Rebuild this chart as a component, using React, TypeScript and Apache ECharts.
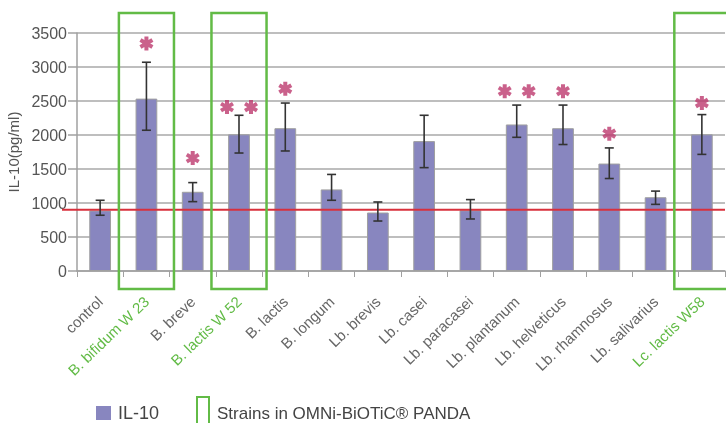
import React, { useEffect, useRef } from "react";
import * as echarts from "echarts";

const categories = [
  "control", "B. bifidum W 23", "B. breve", "B. lactis W 52", "B. lactis", "B. longum",
  "Lb. brevis", "Lb. casei", "Lb. paracasei", "Lb. plantanum", "Lb. helveticus",
  "Lb. rhamnosus", "Lb. salivarius", "Lc. lactis W58",
];
const il10Values = [890, 2535, 1165, 2010, 2100, 1200, 860, 1910, 893, 2155, 2100, 1580, 1085, 2010];
const errLow = [820, 2070, 1020, 1735, 1765, 1040, 735, 1520, 765, 1966, 1860, 1360, 980, 1715];
const errHigh = [1040, 3070, 1300, 2290, 2470, 1420, 1015, 2290, 1050, 2440, 2440, 1810, 1175, 2300];
const starCounts = [0, 1, 1, 2, 1, 0, 0, 0, 0, 2, 1, 1, 0, 1];
const starLevels = [0, 3345, 1660, 2410, 2680, 0, 0, 0, 0, 2645, 2645, 2020, 0, 2470];
const omniStrains = [1, 3, 13];
const controlLevel = 900;
const yTicks = { min: 0, max: 3500, interval: 500 };
const legendBarLabel = "IL-10";
const legendBoxLabel = "Strains in OMNi-BiOTiC® PANDA";
const yAxisName = "IL-10(pg/ml)";

const GREEN = "#62bb46";
const PURPLE = "#8886bf";
const STAR = "#bd3a6e";
const FONT = "Liberation Sans, Arial, Helvetica, sans-serif";

const ASTERISK =
  "path://M7.2 0L12.8 0L12.8 20L7.2 20Z M16.96 2.58L19.76 7.42L3.04 17.42L0.24 12.58Z M0.24 7.42L3.04 2.58L19.76 12.58L16.96 17.42Z";

export default function App() {
  const ref = useRef<HTMLDivElement>(null);
  useEffect(() => {
    if (!ref.current) return;
    const chart = echarts.init(ref.current, undefined, { renderer: "svg" });

    const starData: any[] = [];
    starCounts.forEach((n, i) => {
      if (n === 1) starData.push({ value: [i, starLevels[i]] });
      if (n === 2) {
        starData.push({ value: [i, starLevels[i]], symbolOffset: [-12, 0] });
        starData.push({ value: [i, starLevels[i]], symbolOffset: [12, 0] });
      }
    });

    chart.setOption({
      animation: false,
      grid: { left: 77, right: 1, top: 33, bottom: 152, containLabel: false, outerBoundsMode: "none" },
      xAxis: {
        type: "category",
        data: categories.map((c, i) => ({
          value: c,
          textStyle: { color: omniStrains.includes(i) ? GREEN : "#666" },
        })),
        axisLine: { lineStyle: { color: "#a0a0a0", width: 1.5 } },
        axisTick: { show: true, length: 6, lineStyle: { color: "#a0a0a0" } },
        axisLabel: {
          rotate: 44,
          interval: 0,
          fontSize: 15,
          fontFamily: FONT,
          margin: 28,
          align: "right",
          verticalAlign: "top",
          padding: [7, 0, 0, 0],
        },
        splitLine: { show: false },
      },
      yAxis: {
        type: "value",
        min: yTicks.min,
        max: yTicks.max,
        interval: yTicks.interval,
        name: yAxisName,
        nameLocation: "middle",
        nameGap: 51,
        nameTextStyle: { color: "#555", fontSize: 15, fontFamily: FONT },
        axisLine: { show: true, lineStyle: { color: "#a0a0a0", width: 1.5 } },
        axisTick: { show: true, length: 9, lineStyle: { color: "#a0a0a0", width: 1.5 } },
        axisLabel: {
          color: "#555",
          fontSize: 16,
          fontFamily: FONT,
          margin: 10,
          formatter: (v: number) => String(v),
        },
        splitLine: { lineStyle: { color: "#a8a8a8", width: 1.5 } },
      },
      series: [
        {
          type: "bar",
          data: il10Values,
          barWidth: "47%",
          itemStyle: { color: PURPLE, borderColor: "#a0a0a0", borderWidth: 1 },
          z: 2,
        },
        {
          type: "custom",
          data: [[0, controlLevel]],
          clip: false,
          z: 3,
          renderItem: (params: any, api: any) => {
            const cs = params.coordSys;
            const y = api.coord([0, api.value(1)])[1];
            return {
              type: "line",
              shape: { x1: cs.x - 15, y1: y, x2: cs.x + cs.width, y2: y },
              style: { stroke: "#d8303c", lineWidth: 2 },
            };
          },
        },
        {
          type: "custom",
          data: il10Values.map((_, i) => [i, errLow[i], errHigh[i]]),
          z: 4,
          renderItem: (params: any, api: any) => {
            const lo = api.coord([api.value(0), api.value(1)]);
            const hi = api.coord([api.value(0), api.value(2)]);
            const w = 4.5;
            const st = { stroke: "#333", lineWidth: 1.6 };
            return {
              type: "group",
              children: [
                { type: "line", shape: { x1: lo[0], y1: lo[1], x2: hi[0], y2: hi[1] }, style: st },
                { type: "line", shape: { x1: lo[0] - w, y1: lo[1], x2: lo[0] + w, y2: lo[1] }, style: st },
                { type: "line", shape: { x1: hi[0] - w, y1: hi[1], x2: hi[0] + w, y2: hi[1] }, style: st },
              ],
            };
          },
        },
        {
          type: "custom",
          data: omniStrains.map((i) => [i, 0]),
          clip: false,
          z: 5,
          renderItem: (params: any, api: any) => {
            const cs = params.coordSys;
            const c = api.coord([api.value(0), 0]);
            const bw = api.size([1, 0])[0];
            const w = bw * 1.19;
            return {
              type: "rect",
              shape: { x: c[0] - w / 2, y: cs.y - 20, width: w, height: cs.height + 38 },
              style: { fill: "none", stroke: GREEN, lineWidth: 2.5 },
            };
          },
        },
        {
          type: "scatter",
          data: starData,
          symbol: ASTERISK,
          symbolSize: 14,
          itemStyle: { color: STAR },
          z: 6,
        },
      ],
      graphic: [
        { type: "rect", shape: { x: 96, y: 406, width: 15, height: 14 }, style: { fill: PURPLE } },
        {
          type: "text",
          x: 118,
          y: 413,
          style: { text: legendBarLabel, fill: "#444", fontSize: 18, fontFamily: FONT, verticalAlign: "middle" },
        },
        {
          type: "rect",
          shape: { x: 197, y: 397, width: 12, height: 40 },
          style: { fill: "none", stroke: GREEN, lineWidth: 2 },
        },
        {
          type: "text",
          x: 217,
          y: 413,
          style: { text: legendBoxLabel, fill: "#444", fontSize: 17, fontFamily: FONT, verticalAlign: "middle" },
        },
      ],
    });
    return () => chart.dispose();
  }, []);
  return <div ref={ref} style={{ width: 726, height: 423, position: "fixed", left: 0, top: 0 }} />;
}
